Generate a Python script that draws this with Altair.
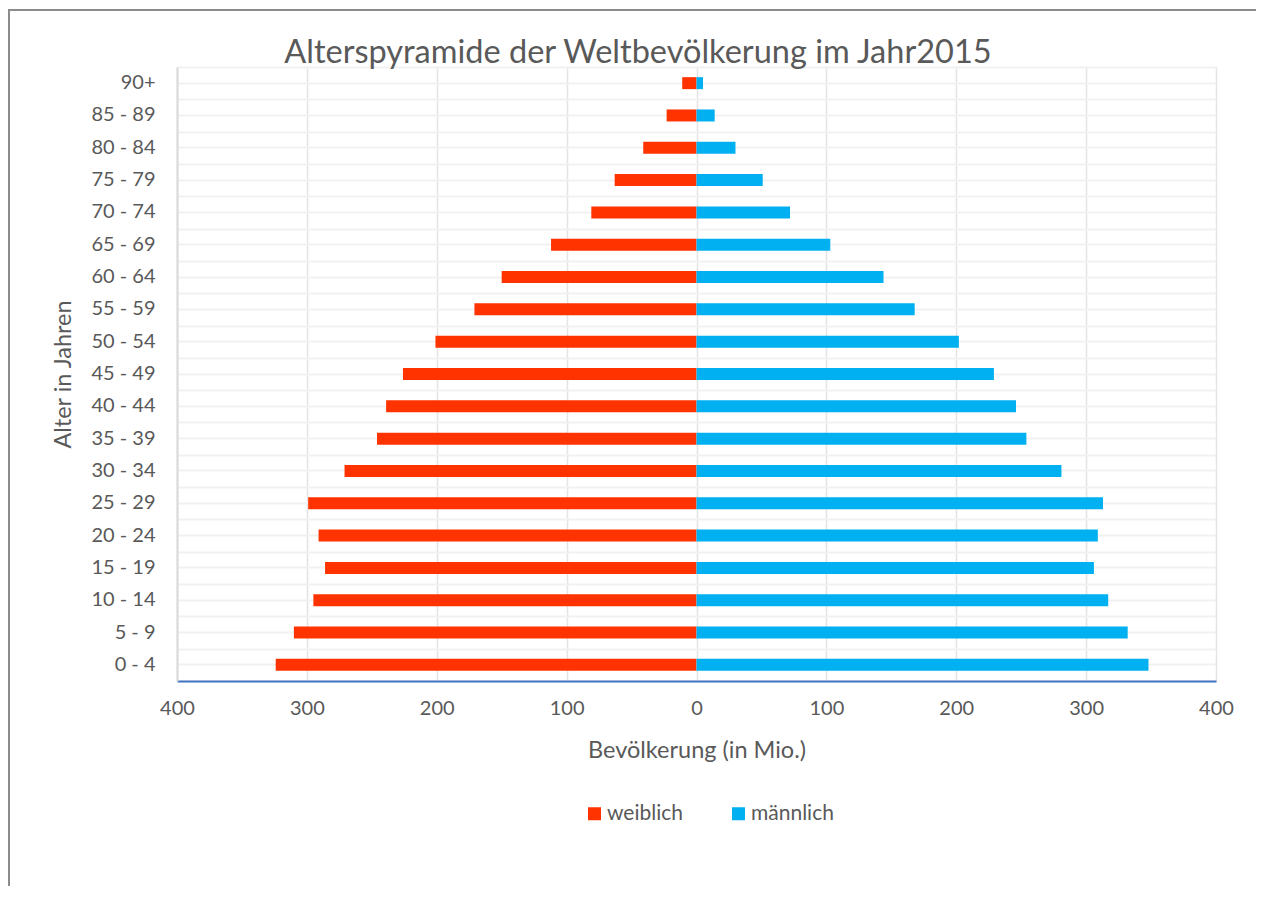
import altair as alt
import pandas as pd

ages = ["0 - 4", "5 - 9", "10 - 14", "15 - 19", "20 - 24", "25 - 29", "30 - 34",
        "35 - 39", "40 - 44", "45 - 49", "50 - 54", "55 - 59", "60 - 64",
        "65 - 69", "70 - 74", "75 - 79", "80 - 84", "85 - 89", "90+"]
weiblich = [324, 310, 295, 286, 291, 299, 271, 246, 239, 226, 201, 171, 150,
            112, 81, 63, 41, 23, 11]
maennlich = [348, 332, 317, 306, 309, 313, 281, 254, 246, 229, 202, 168, 144,
             103, 72, 51, 30, 14, 5]
x_ticks = [-400, -300, -200, -100, 0, 100, 200, 300, 400]
title_text = "Alterspyramide der Weltbevölkerung im Jahr2015"

rows = []
for a, w, m in zip(ages, weiblich, maennlich):
    rows.append({"Alter": a, "Geschlecht": "weiblich", "Wert": -w})
    rows.append({"Alter": a, "Geschlecht": "männlich", "Wert": m})
df = pd.DataFrame(rows)

FONT = "Lato"
TXT = "#595959"
order = ages[::-1]

W, H = 1039, 614

ysc = alt.Scale(domain=order, paddingInner=0, paddingOuter=0)

bars = alt.Chart(df).mark_bar(size=12).encode(
    x=alt.X("Wert:Q", stack=None,
            scale=alt.Scale(domain=[-400, 400], nice=False),
            axis=alt.Axis(values=x_ticks, labelExpr="abs(datum.value)",
                          title="Bevölkerung (in Mio.)", grid=True,
                          gridColor="#e4e4e4", gridWidth=1.5,
                          domainColor="#4472C4", domainWidth=2, ticks=False,
                          labelFlush=False,
                          labelFontSize=20, labelColor=TXT, labelFont=FONT,
                          labelPadding=17,
                          titleFontSize=23.5, titleColor=TXT, titleFont=FONT,
                          titleFontWeight="normal", titleY=69,
                          titleBaseline="middle")),
    y=alt.Y("Alter:N", sort=order, scale=ysc,
            axis=alt.Axis(title="Alter in Jahren", grid=True,
                          gridColor="#f1f1f1", gridWidth=2,
                          domainColor="#d9d9d9", domainWidth=2, ticks=False,
                          labelFontSize=20, labelColor=TXT, labelFont=FONT,
                          labelPadding=22,
                          titleFontSize=23.5, titleColor=TXT, titleFont=FONT,
                          titleFontWeight="normal", titleX=-114, titleY=307,
                          titleBaseline="middle", titleAngle=270)),
    color=alt.Color("Geschlecht:N",
                    scale=alt.Scale(domain=["weiblich", "männlich"],
                                    range=["#FF3300", "#00B0F0"]),
                    legend=alt.Legend(title=None, orient="none",
                                      direction="horizontal",
                                      legendX=407, legendY=736,
                                      symbolType="square", symbolSize=169,
                                      symbolStrokeWidth=0, symbolOpacity=1,
                                      labelFontSize=21, labelColor=TXT,
                                      labelFont=FONT, labelOffset=2,
                                      columnPadding=45)),
)

bands = alt.Chart(df).mark_bar(opacity=0).encode(
    y=alt.Y("Alter:N", sort=order, scale=ysc,
            axis=alt.Axis(orient="right", title=None, labels=False,
                          ticks=False, domain=False, grid=True,
                          gridColor="#f1f1f1", gridWidth=2,
                          tickBand="extent")),
)

one = alt.Data(values=[{"k": 1}])
border_top = alt.Chart(one).mark_rule(color="#8c8c8c", strokeWidth=2).encode(
    x=alt.value(-169), x2=alt.value(1100), y=alt.value(-57))
border_left = alt.Chart(one).mark_rule(color="#8c8c8c", strokeWidth=2).encode(
    x=alt.value(-168), y=alt.value(-57), y2=alt.value(850))
title = alt.Chart(one).mark_text(
    font=FONT, fontSize=32.5, color=TXT, align="center",
    baseline="alphabetic").encode(
    x=alt.value(461), y=alt.value(-4), text=alt.value(title_text))

chart = alt.layer(bands, bars, border_top, border_left, title).resolve_scale(
    y="shared").resolve_axis(y="independent").properties(
    width=W, height=H,
    autosize=alt.AutoSizeParams(type="none"),
    padding={"left": 169, "top": 59, "right": 40, "bottom": 205},
).configure_view(stroke=None).configure(background="white")

chart.save("out.html", embed_options={"renderer": "svg", "actions": False})
